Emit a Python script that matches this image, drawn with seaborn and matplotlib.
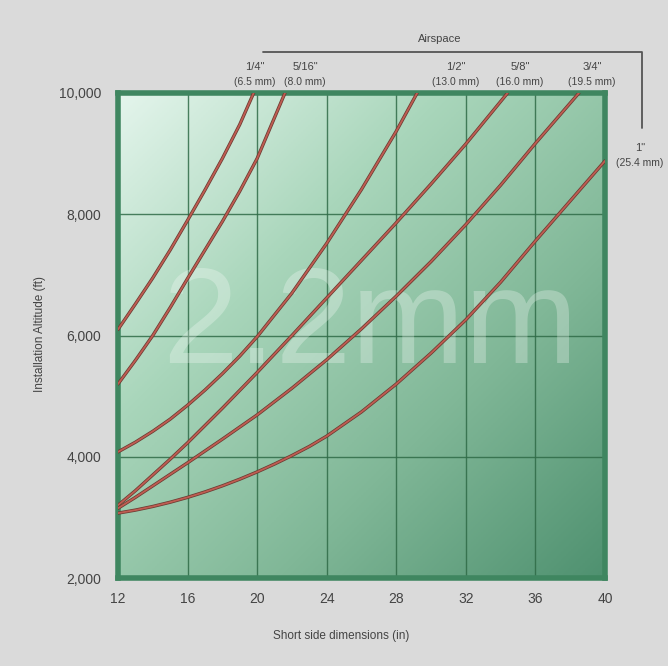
import numpy as np
import pandas as pd
import matplotlib
matplotlib.use("Agg")
import matplotlib.pyplot as plt
import matplotlib.patheffects as pe
from matplotlib.colors import LinearSegmentedColormap
from matplotlib.lines import Line2D
from matplotlib.ticker import FuncFormatter
import seaborn as sns

sns.set_theme(style="white")
plt.rcParams["font.family"] = ["Liberation Sans", "DejaVu Sans"]

# ── Dados ─────────────────────────────────────────────────────────────────────
AIRSPACE = ['1/4"', '5/16"', '1/2"', '5/8"', '3/4"', '1"']
AIRSPACE_MM = ["(6.5 mm)", "(8.0 mm)", "(13.0 mm)", "(16.0 mm)", "(19.5 mm)", "(25.4 mm)"]

X_1_4 = [12, 13, 14, 15, 16, 17, 18, 19, 19.8]
Y_1_4 = [6100, 6520, 6950, 7410, 7900, 8400, 8920, 9480, 10000]

X_5_16 = [12, 13, 14, 15, 16, 17, 18, 19, 20, 21.6]
Y_5_16 = [5200, 5590, 6000, 6460, 6940, 7410, 7880, 8380, 8920, 10000]

X_1_2 = [12, 13, 14, 15, 16, 17, 18, 19, 20, 22, 24, 26, 28, 29.2]
Y_1_2 = [4080, 4240, 4420, 4620, 4850, 5100, 5370, 5660, 5980, 6700, 7520, 8410, 9370, 10000]

X_5_8 = [12, 13, 14, 15, 16, 18, 20, 22, 24, 26, 28, 30, 32, 34.4]
Y_5_8 = [3200, 3440, 3700, 3960, 4230, 4800, 5390, 6000, 6620, 7240, 7860, 8500, 9160, 10000]

X_3_4 = [12, 13, 14, 15, 16, 18, 20, 22, 24, 26, 28, 30, 32, 34, 36, 38.5]
Y_3_4 = [3150, 3330, 3520, 3710, 3900, 4290, 4690, 5130, 5600, 6110, 6650, 7220, 7830, 8480, 9170, 10000]

X_1 = [12, 13, 14, 15, 16, 17, 18, 19, 20, 21, 22, 23, 24, 26, 28, 30, 32, 34, 36, 38, 40]
Y_1 = [3070, 3120, 3180, 3250, 3330, 3420, 3520, 3630, 3750, 3880, 4020, 4170, 4340, 4740,
       5200, 5710, 6260, 6880, 7560, 8220, 8880]

X_TICKS = [12, 16, 20, 24, 28, 32, 36, 40]
Y_TICKS = [2000, 4000, 6000, 8000, 10000]

WATERMARK = "2.2mm"
TITULO_TOPO = "Airspace"
X_LABEL = "Short side dimensions (in)"
Y_LABEL = "Installation Altitude (ft)"

# ── Estilo ────────────────────────────────────────────────────────────────────
COR_FUNDO = "#dadada"
COR_CURVA = "#bf5d52"
COR_BORDA_CURVA = "#6b3b32"
COR_GRADE = "#2f6b47"
COR_MOLDURA = "#3f8660"
COR_TEXTO = "#444444"
W, H = 668, 666

curvas = [(X_1_4, Y_1_4), (X_5_16, Y_5_16), (X_1_2, Y_1_2),
          (X_5_8, Y_5_8), (X_3_4, Y_3_4), (X_1, Y_1)]
df = pd.concat([
    pd.DataFrame({"short_side": x, "altitude": y, "airspace": nome})
    for nome, (x, y) in zip(AIRSPACE, curvas)
], ignore_index=True)

fig = plt.figure(figsize=(W / 100, H / 100), dpi=100, facecolor=COR_FUNDO)
ax = fig.add_axes([118 / W, 1 - 578 / H, (605 - 118) / W, (578 - 93) / H])

# fundo verde em degradê
verde = LinearSegmentedColormap.from_list(
    "verde", ["#e4f5ec", "#a9d6bb", "#80b797", "#4f9170"])
grad = np.add.outer(np.linspace(0, 1, 200), np.linspace(0, 1, 200)) / 2
ax.imshow(grad, cmap=verde, extent=[0, 1, 0, 1], transform=ax.transAxes,
          aspect="auto", zorder=0)

sns.lineplot(data=df, x="short_side", y="altitude", hue="airspace",
             palette=[COR_CURVA] * len(AIRSPACE), legend=False, sort=False,
             estimator=None, linewidth=1.3, ax=ax, zorder=3)
for linha in ax.lines:
    linha.set_solid_joinstyle("round")
    linha.set_path_effects([pe.Stroke(linewidth=2.4, foreground=COR_BORDA_CURVA),
                            pe.Normal()])

ax.text(0.517, 0.515, WATERMARK, transform=ax.transAxes, ha="center",
        va="center", fontsize=98, color="white", alpha=0.28, zorder=2)

ax.set_xlim(X_TICKS[0], X_TICKS[-1])
ax.set_ylim(Y_TICKS[0], Y_TICKS[-1])
ax.set_xticks(X_TICKS)
ax.set_yticks(Y_TICKS)
ax.yaxis.set_major_formatter(FuncFormatter(lambda v, _: f"{int(v):,}"))
ax.grid(True, color=COR_GRADE, linewidth=1.0, alpha=0.85)
ax.tick_params(axis="x", length=0, pad=10, labelsize=10, colors=COR_TEXTO)
ax.tick_params(axis="y", length=0, pad=12, labelsize=10, colors=COR_TEXTO)
ax.set_xlabel("")
ax.set_ylabel("")
for s in ax.spines.values():
    s.set_color(COR_MOLDURA)
    s.set_linewidth(4)
    s.set_visible(True)

# ── Textos e colchete do topo ─────────────────────────────────────────────────
fig.text(341 / W, 1 - 636 / H, X_LABEL, ha="center", va="center",
         fontsize=8.5, color=COR_TEXTO)
fig.text(40 / W, 1 - 334 / H, Y_LABEL, ha="center", va="center",
         rotation=90, fontsize=8.5, color=COR_TEXTO)
fig.text(440 / W, 1 - 39 / H, TITULO_TOPO, ha="center", va="center",
         fontsize=8, color=COR_TEXTO)

fig.add_artist(Line2D([263 / W, 642 / W, 642 / W],
                      [1 - 52 / H, 1 - 52 / H, 1 - 128 / H],
                      color="#555555", linewidth=1.3))

posicoes = [(255, 67), (305, 67), (456, 67), (520, 67), (592, 67), (640, 148)]
for (px, py), frac, mm in zip(posicoes, AIRSPACE, AIRSPACE_MM):
    fig.text(px / W, 1 - py / H, frac, ha="center", va="center",
             fontsize=8, color=COR_TEXTO)
    fig.text(px / W, 1 - (py + 15) / H, mm, ha="center", va="center",
             fontsize=7.5, color=COR_TEXTO)

fig.savefig("out.png", dpi=100, facecolor=COR_FUNDO)
